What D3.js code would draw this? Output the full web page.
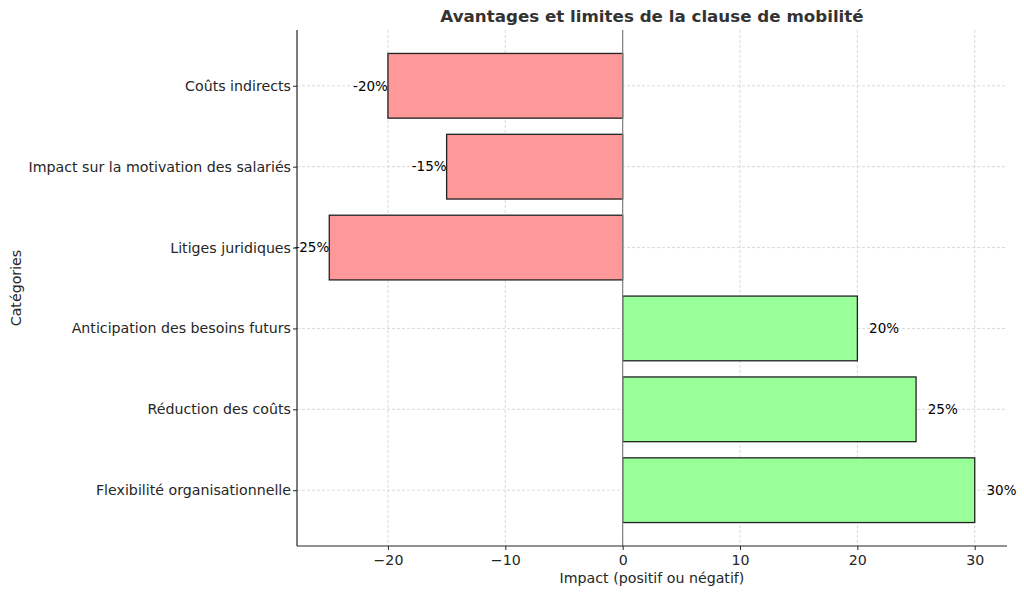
<!DOCTYPE html>
<html><head><meta charset="utf-8">
<script src="https://cdn.jsdelivr.net/npm/d3@7"></script>
<style>body{margin:0;background:#fff;} text{font-family:"DejaVu Sans",sans-serif;}</style>
</head><body><svg id="c" width="1024" height="593"></svg>
<script>
const categories = ["Flexibilité organisationnelle","Réduction des coûts","Anticipation des besoins futurs","Litiges juridiques","Impact sur la motivation des salariés","Coûts indirects"];
const values = [30, 25, 20, -25, -15, -20];
const xTicks = [-20, -10, 0, 10, 20, 30];

const svg = d3.select("#c");
const L = 297, R = 1007, T = 30, B = 546;
const x = d3.scaleLinear().domain([-27.75, 32.75]).range([L, R]);
const y = d3.scaleLinear().domain([-0.69, 5.69]).range([B, T]);
const ink = "#262626";
const fs = 14.2;

// grid
const g = svg.append("g");
g.selectAll("line.vx").data(xTicks).enter().append("line")
  .attr("x1", d => x(d)).attr("x2", d => x(d)).attr("y1", T).attr("y2", B)
  .attr("stroke", "#cfcfcf").attr("stroke-width", 0.8).attr("stroke-dasharray", "3,2");
g.selectAll("line.hy").data(categories).enter().append("line")
  .attr("x1", L).attr("x2", R).attr("y1", (d,i) => y(i)).attr("y2", (d,i) => y(i))
  .attr("stroke", "#cfcfcf").attr("stroke-width", 0.8).attr("stroke-dasharray", "3,2");

// bars
svg.selectAll("rect.bar").data(values).enter().append("rect")
  .attr("x", d => x(Math.min(0, d))).attr("width", d => Math.abs(x(d) - x(0)))
  .attr("y", (d,i) => y(i + 0.4)).attr("height", (d,i) => y(i - 0.4) - y(i + 0.4))
  .attr("fill", d => d >= 0 ? "#99ff99" : "#ff9999")
  .attr("stroke", "#222").attr("stroke-width", 1.3);

// zero line
svg.append("line").attr("x1", x(0)).attr("x2", x(0)).attr("y1", T).attr("y2", B)
  .attr("stroke", "#808080").attr("stroke-width", 1.2);

// value labels
svg.selectAll("text.val").data(values).enter().append("text")
  .attr("x", d => d >= 0 ? x(d + 1) : x(d))
  .attr("y", (d,i) => y(i)).attr("dy", "0.35em")
  .attr("text-anchor", d => d >= 0 ? "start" : "end")
  .attr("font-size", 13.5).attr("fill", "#000")
  .text(d => d + "%");

// axes
const xAxis = d3.axisBottom(x).tickValues(xTicks).tickSize(4).tickPadding(5)
  .tickFormat(d => d < 0 ? "\u2212" + Math.abs(d) : d);
const xa = svg.append("g").attr("transform", `translate(0,${B})`).call(xAxis);
xa.select(".domain").attr("d", `M${L},0H${R}`).attr("stroke", ink).attr("stroke-width", 1.2);
xa.selectAll(".tick line").attr("stroke", ink);
xa.selectAll(".tick text").attr("font-size", fs).attr("fill", ink).attr("font-family", "DejaVu Sans");

const yAxis = d3.axisLeft(y).tickValues(d3.range(categories.length)).tickSize(4).tickPadding(2)
  .tickFormat(i => categories[i]);
const ya = svg.append("g").attr("transform", `translate(${L},0)`).call(yAxis);
ya.select(".domain").attr("d", `M0,${T}V${B}`).attr("stroke", ink).attr("stroke-width", 1.2);
ya.selectAll(".tick line").attr("stroke", ink);
ya.selectAll(".tick text").attr("font-size", fs).attr("fill", ink).attr("font-family", "DejaVu Sans");

// titles
svg.append("text").attr("x", (L + R) / 2).attr("y", 22).attr("text-anchor", "middle")
  .attr("font-size", 16.7).attr("font-weight", "bold").attr("fill", "#333")
  .text("Avantages et limites de la clause de mobilité");
svg.append("text").attr("x", (L + R) / 2).attr("y", 583).attr("text-anchor", "middle")
  .attr("font-size", fs).attr("fill", ink).text("Impact (positif ou négatif)");
svg.append("text").attr("transform", `translate(21,${(T + B) / 2}) rotate(-90)`)
  .attr("text-anchor", "middle").attr("font-size", fs).attr("fill", ink).text("Catégories");
</script></body></html>
